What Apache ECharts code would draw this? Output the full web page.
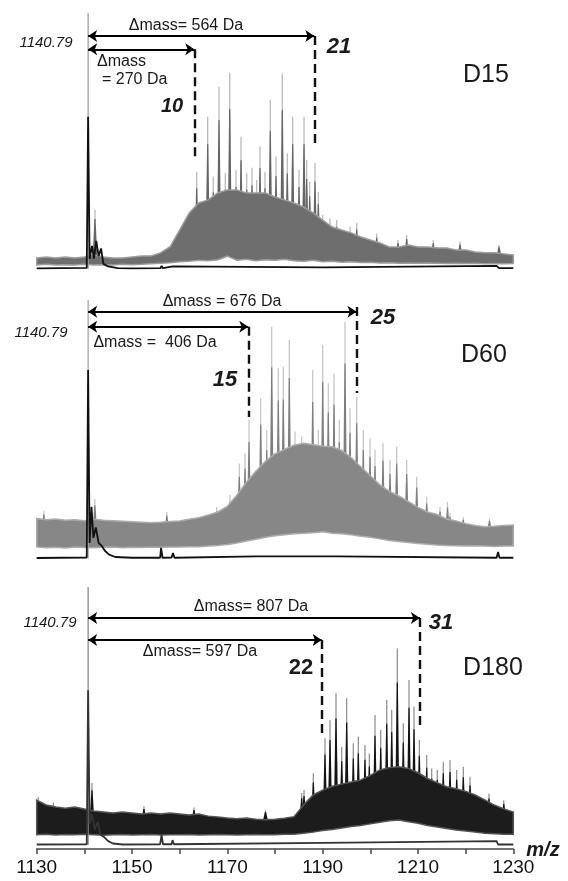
<!DOCTYPE html>
<html><head><meta charset="utf-8">
<script src="https://cdn.jsdelivr.net/npm/echarts@6/dist/echarts.min.js"></script>
<style>html,body{margin:0;padding:0;background:#fff}#c{width:568px;height:881px}</style>
</head><body><div id="c"></div>
<script>
// ---------- DATA ----------
const refMz = 1140.79;
const xTickLabels = ['1130','1150','1170','1190','1210','1230'];
const panelNames = ['D15','D60','D180'];

const mzGrid = [1130,1132,1134,1136,1138,1140,1142,1144,1146,1148,1150,1152,1154,1156,1158,
  1160,1162,1164,1166,1168,1170,1172,1174,1176,1178,1180,1182,1184,1186,1188,1190,1192,1194,1196,1198,1200,
  1202,1204,1206,1208,1210,1212,1214,1216,1218,1220,1222,1224,1226,1228,1230];

// D15
const d15Upper = [4.3,4.7,4.3,4.7,4.3,4.7,5.5,4.7,4.3,4.3,4.7,5.1,5.1,6.3,8.7,
  15.2,21.9,25.8,27.0,29.7,30.9,30.9,29.7,29.7,29.7,28.1,27.0,25.8,24.2,21.9,19.1,16.4,15.2,14.1,12.5,11.3,
  10.2,8.6,8.6,9.4,8.6,8.6,8.2,8.2,7.4,7.4,6.6,6.3,6.3,5.9,5.5];
const d15Lower = [1.6,1.8,1.6,1.7,1.6,1.8,1.6,1.7,1.6,1.8,1.7,1.8,2.0,2.2,2.4,
  2.8,3.0,3.4,3.2,3.6,5.0,3.4,3.8,3.2,3.6,3.4,3.8,3.2,3.0,3.4,2.8,3.0,2.6,2.8,2.5,2.6,
  2.3,2.4,2.2,2.3,2.2,2.3,2.2,2.1,2.2,2.1,2.2,2.0,2.1,2.0,2.1];
const d15Spikes = [[1142.23,23.0],[1161.47,20.4],[1163.57,38.0],[1164.62,25.7],[1165.88,59.5],[1167.05,36.1],
  [1168.25,71.2],[1169.57,37.4],[1170.5,76.7],[1171.82,38.7],[1172.87,51.7],[1174.06,37.4],[1175.17,39.5],
  [1176.16,34.8],[1176.85,47.8],[1177.9,38.0],[1179.01,66.0],[1180.21,43.9],[1181.53,76.4],[1182.58,45.2],
  [1183.71,59.5],[1185.04,38.7],[1186.09,59.5],[1186.65,42.6],[1187.28,34.1],[1188.39,41.4],[1189.09,30.2],
  [1190.01,21.1],[1191.54,19.8],[1192.95,19.1],[1195.74,16.5],[1197.14,18.0],[1201.34,13.9],[1205.8,11.3],
  [1207.63,13.3],[1213.21,11.3],[1218.82,10.7],[1227.0,9.4]];
const d15Trace = [[1130,0.2],[1140.5,0.4],[1140.79,59.5],[1141.1,4],[1141.6,9],[1142.0,4],[1142.5,11],[1143.0,5],
  [1143.5,8],[1144.0,2],[1145,1],[1147,0.3],[1150,0.2],[1156.0,0.3],[1156.2,1.2],[1156.5,0.3],[1158.6,1.0],
  [1159,0.3],[1190,0.6],[1226.5,1.2],[1227,0.3],[1230,0.3]];
const d15Marks = [1163.07, 1188.25];

// D60
const d60Upper = [15.5,15.0,15.3,14.8,15.0,14.6,15.2,14.8,14.6,14.4,14.2,14.0,13.8,14.0,14.3,
  14.5,15.2,15.8,16.8,18.0,20.2,24.5,29.5,33.8,37.6,40.5,42.2,43.8,44.6,44.0,43.4,43.2,41.8,39.0,35.5,32.0,
  28.5,26.0,24.2,22.0,19.8,18.0,17.0,15.3,14.5,13.5,12.8,12.3,12.5,12.8,13.0];
const d60Lower = [4.5,4.2,4.4,4.1,4.5,4.3,4.2,4.4,4.5,4.2,4.4,4.3,4.5,4.4,4.5,
  4.5,4.6,4.6,4.8,5.0,5.4,6.0,6.8,7.5,8.2,8.8,9.2,9.6,9.8,10.0,10.4,9.8,9.6,9.2,8.6,8.2,
  7.6,7.0,6.6,6.2,5.8,5.5,5.2,5.0,4.9,4.8,4.9,4.8,4.7,4.8,4.8];
const d60Spikes = [[1131.5,18.5],[1142.2,23.0],[1157.3,18.0],[1167.77,20.0],[1170.56,24.6],[1172.51,36.8],
  [1173.71,40.7],[1174.55,53.6],[1175.59,33.0],[1177.0,62.0],[1178.26,49.7],[1179.31,89.7],[1180.69,73.6],
  [1181.74,74.2],[1183.0,84.5],[1184.2,49.1],[1185.6,47.1],[1186.65,44.6],[1187.91,72.9],[1189.09,49.7],
  [1190.01,82.6],[1191.18,67.8],[1192.38,71.6],[1193.49,53.6],[1194.69,91.5],[1195.74,58.1],[1197.14,62.6],
  [1198.53,49.7],[1199.93,46.5],[1200.98,42.0],[1202.66,44.7],[1204.13,38.1],[1205.53,43.2],[1207.63,38.1],
  [1209.73,31.6],[1211.83,23.9],[1214.62,20.0],[1216.2,21.9],[1216.72,17.5],[1219.5,16.0],[1225.0,15.5]];
const d60Trace = [[1130,0.2],[1140.5,0.4],[1140.79,72.9],[1141.1,6],[1141.5,20],[1141.9,8],[1142.4,12],[1143,6],
  [1143.6,5],[1144.3,3],[1145.2,1.5],[1146.5,0.6],[1150,0.3],[1155.9,0.3],[1156.1,4.1],[1156.4,0.3],[1158.3,0.4],
  [1158.6,2.1],[1158.9,0.3],[1176,0.8],[1193,0.8],[1226.5,0.3],[1226.8,2.5],[1227.1,0.3],[1230,0.3]];
const d60Marks = [1174.4, 1197.1];

// D180
const d180Upper = [17.4,15.5,14.7,14.3,14.7,14.0,13.2,12.8,12.4,12.8,12.4,12.0,12.4,12.0,12.4,
  12.0,11.6,12.0,11.2,10.9,10.5,10.2,10.5,10.0,9.8,10.0,10.4,11.0,15.5,19.4,21.3,22.8,23.6,24.4,25.2,27.0,
  29.1,30.0,30.3,29.7,28.0,25.8,24.2,22.6,21.8,20.8,19.4,17.5,15.5,14.0,12.8];
const d180Lower = [4.0,4.2,3.9,4.1,4.0,4.2,4.0,3.8,4.0,4.1,3.9,4.0,4.1,3.9,4.0,
  4.0,4.1,3.9,4.0,4.1,4.0,3.9,4.0,4.1,4.0,4.0,4.2,4.2,4.6,5.0,5.6,6.0,6.6,7.2,7.6,8.2,
  8.8,9.4,9.7,9.0,8.4,7.6,7.0,6.4,5.8,5.4,5.0,4.6,4.4,4.2,4.2];
const d180Spikes = [[1130.3,18.5],[1133.5,16.5],[1141.6,24.0],[1152.5,15.0],[1163.0,14.5],[1178.0,13.5],
  [1185.6,20.2],[1186.09,21.3],[1188.04,27.8],[1190.49,41.4],[1191.54,48.4],[1192.8,58.8],[1194.0,38.1],
  [1195.04,56.9],[1196.43,39.4],[1197.48,42.0],[1198.88,38.8],[1199.79,35.5],[1200.98,50.4],[1202.18,44.6],
  [1203.44,56.2],[1204.49,52.3],[1205.66,76.2],[1206.92,47.2],[1208.12,64.0],[1209.17,53.6],[1210.28,40.7],
  [1211.83,34.9],[1212.88,29.7],[1214.05,29.1],[1215.31,32.3],[1216.72,32.9],[1218.12,29.1],[1219.51,30.3],
  [1220.92,26.5],[1224.9,20.0],[1228.0,17.4]];
const d180Trace = [[1130,0.2],[1140.5,0.3],[1140.79,60],[1141.1,8],[1141.6,12],[1142.2,6],[1142.8,9],[1143.4,4],
  [1144.2,3],[1145,1.5],[1146,0.6],[1148,0.2],[1155.9,0.3],[1156.2,3.9],[1156.5,0.3],[1158.3,0.3],[1158.5,1.9],
  [1158.8,0.3],[1190,0.8],[1190.3,0.2],[1226.5,1.5],[1226.8,0.2],[1230,0.2]];
const d180Marks = [1189.8, 1210.4];

const refTop = [100, 100, 100];

// ---------- STYLE / LAYOUT ----------
const FONT = '"Liberation Sans", Arial, Helvetica, sans-serif';
const panels = [
  {upper:d15Upper, lower:d15Lower, spikes:d15Spikes, trace:d15Trace, marks:d15Marks,
   band:'#6e6e6e', halo:'#9c9c9c', tip:'#b4b4b4', core:'#656565', base:5.5, traceColor:'#111', refColor:'#a0a0a0',
   grid:{top:13, height:261.1}, ymin:-2,
   arrowY:[85.8,91.0], dashTop:[85.8,91.0], dashBottom:[43.75,48.4]},
  {upper:d60Upper, lower:d60Lower, spikes:d60Spikes, trace:d60Trace, marks:d60Marks,
   band:'#878787', halo:'#ababab', tip:'#c2c2c2', core:'#7e7e7e', base:11, traceColor:'#111', refColor:'#a8a8a8',
   grid:{top:300, height:263.7}, ymin:-2,
   arrowY:[89.7,95.5], dashTop:[89.7,97.3], dashBottom:[54.7,64.0]},
  {upper:d180Upper, lower:d180Lower, spikes:d180Spikes, trace:d180Trace, marks:d180Marks,
   band:'#1c1c1c', halo:'#555555', tip:'#8a8a8a', core:'#141414', base:10, traceColor:'#333', refColor:'#8a8a8a',
   grid:{top:587, height:261.9}, ymin:-1.5,
   arrowY:[79.5,88.0], dashTop:[79.5,88.0], dashBottom:[41.9,45.3]}
];

const grids = [], xAxes = [], yAxes = [], series = [];
panels.forEach((p, gi) => {
  grids.push({left:36.7, width:476.6, top:p.grid.top, height:p.grid.height});
  const isBottom = gi === 2;
  xAxes.push({gridIndex:gi, type:'value', min:1130, max:1230, interval:10, show:isBottom,
    axisLine:{show:true, onZero:false, lineStyle:{color:'#444', width:1.5}},
    axisTick:{show:true, length:5, lineStyle:{color:'#444', width:1.5}},
    axisLabel:{show:true, margin:9, fontSize:19, color:'#111', fontFamily:FONT,
      formatter: v => xTickLabels.indexOf(String(v)) >= 0 ? String(v) : ''},
    splitLine:{show:false}});
  yAxes.push({gridIndex:gi, type:'value', min:p.ymin, max:100, show:false, splitLine:{show:false}});

  // spikes (drawn behind the dense band so only their upper parts show)
  series.push({type:'custom', xAxisIndex:gi, yAxisIndex:gi, silent:true, animation:false, z:1,
    data: p.spikes,
    renderItem(params, api){
      const m = api.value(0), h = api.value(1);
      const b = api.coord([m, p.base]), t = api.coord([m, h]);
      const k = api.coord([m, p.base + (h - p.base)*0.8]);
      return {type:'group', children:[
        {type:'line', shape:{x1:b[0],y1:b[1],x2:t[0],y2:t[1]}, style:{stroke:p.tip, lineWidth:1.2}},
        {type:'polygon', shape:{points:[[b[0]-2.2,b[1]],[b[0]+2.2,b[1]],[k[0]+0.6,k[1]],[k[0]-0.6,k[1]]]},
         style:{fill:p.core}}
      ]};
    }});
  // dense band
  series.push({type:'custom', xAxisIndex:gi, yAxisIndex:gi, silent:true, animation:false, z:2,
    data: mzGrid.map((m,i)=>[m, p.upper[i], p.lower[i]]),
    encode:{x:0, y:[1,2]},
    renderItem(params, api){
      if (params.dataIndex !== 0) return null;
      const top = mzGrid.map((m,i)=>api.coord([m, p.upper[i]]));
      const bot = mzGrid.map((m,i)=>api.coord([m, p.lower[i]])).reverse();
      return {type:'polygon', shape:{points: top.concat(bot)}, style:{fill:p.band, stroke:p.halo, lineWidth:1.5}};
    }});
  // reference peak (thin grey) + dashed charge-state markers
  series.push({type:'line', xAxisIndex:gi, yAxisIndex:gi, silent:true, animation:false, z:3,
    data:[[refMz, 0],[refMz, refTop[gi]]], symbol:'none', showSymbol:false,
    lineStyle:{color:p.refColor, width:1.3},
    markLine:{silent:true, animation:false, symbol:'none', label:{show:false}, emphasis:{disabled:true},
      lineStyle:{color:'#111', width:2.4, type:[9,5]},
      data:[
        [{coord:[p.marks[0], p.dashTop[0]]},{coord:[p.marks[0], p.dashBottom[0]]}],
        [{coord:[p.marks[1], p.dashTop[1]]},{coord:[p.marks[1], p.dashBottom[1]]}]
      ]}});
  // black trace + Δmass arrows
  series.push({type:'line', xAxisIndex:gi, yAxisIndex:gi, silent:true, animation:false, z:4,
    data:p.trace, symbol:'none', showSymbol:false,
    lineStyle:{color:p.traceColor, width:1.8},
    markLine:{silent:true, animation:false, symbol:['arrow','arrow'], symbolSize:9, label:{show:false},
      emphasis:{disabled:true}, lineStyle:{color:'#000', width:2, type:'solid'},
      data:[
        [{coord:[refMz, p.arrowY[0]]},{coord:[p.marks[0], p.arrowY[0]]}],
        [{coord:[refMz, p.arrowY[1]]},{coord:[p.marks[1], p.arrowY[1]]}]
      ]}});
});

const texts = [
  // text, x, y, font, align
  ['1140.79', 46, 43.3, 'italic 15px', 'center'],
  ['\u0394mass= 564 Da', 186, 25.7, '16px', 'center'],
  ['\u0394mass', 97, 61.7, '16px', 'left'],
  ['= 270 Da', 102, 80, '16px', 'left'],
  ['10', 172, 106.7, 'italic bold 20px', 'center'],
  ['21', 339, 46.7, 'italic bold 22px', 'center'],
  ['D15', 486, 75, '25px', 'center'],

  ['1140.79', 41, 332.7, 'italic 15px', 'center'],
  ['\u0394mass = 676 Da', 222, 302, '16px', 'center'],
  ['\u0394mass =  406 Da', 155, 343, '16px', 'center'],
  ['15', 225, 380, 'italic bold 22px', 'center'],
  ['25', 383, 318, 'italic bold 22px', 'center'],
  ['D60', 484, 355, '25px', 'center'],

  ['1140.79', 50, 623, 'italic 15px', 'center'],
  ['\u0394mass= 807 Da', 251, 607, '16px', 'center'],
  ['\u0394mass= 597 Da', 200, 652, '16px', 'center'],
  ['22', 301, 668, 'bold 22px', 'center'],
  ['31', 441, 623, 'italic bold 22px', 'center'],
  ['D180', 493, 668, '25px', 'center'],
  ['m/z', 543, 850, 'italic bold 20px', 'center']
];

const chart = echarts.init(document.getElementById('c'), null, {renderer:'canvas'});
chart.setOption({
  backgroundColor:'#fff',
  animation:false,
  grid:grids, xAxis:xAxes, yAxis:yAxes, series:series,
  graphic: texts.map(t => ({type:'text', x:t[1], y:t[2], silent:true, z:100,
    style:{text:t[0], font:t[3] + ' ' + FONT, fill:'#1a1a1a',
      align:t[4], verticalAlign:'middle', textAlign:t[4], textVerticalAlign:'middle'}}))
});
</script>
</body></html>
